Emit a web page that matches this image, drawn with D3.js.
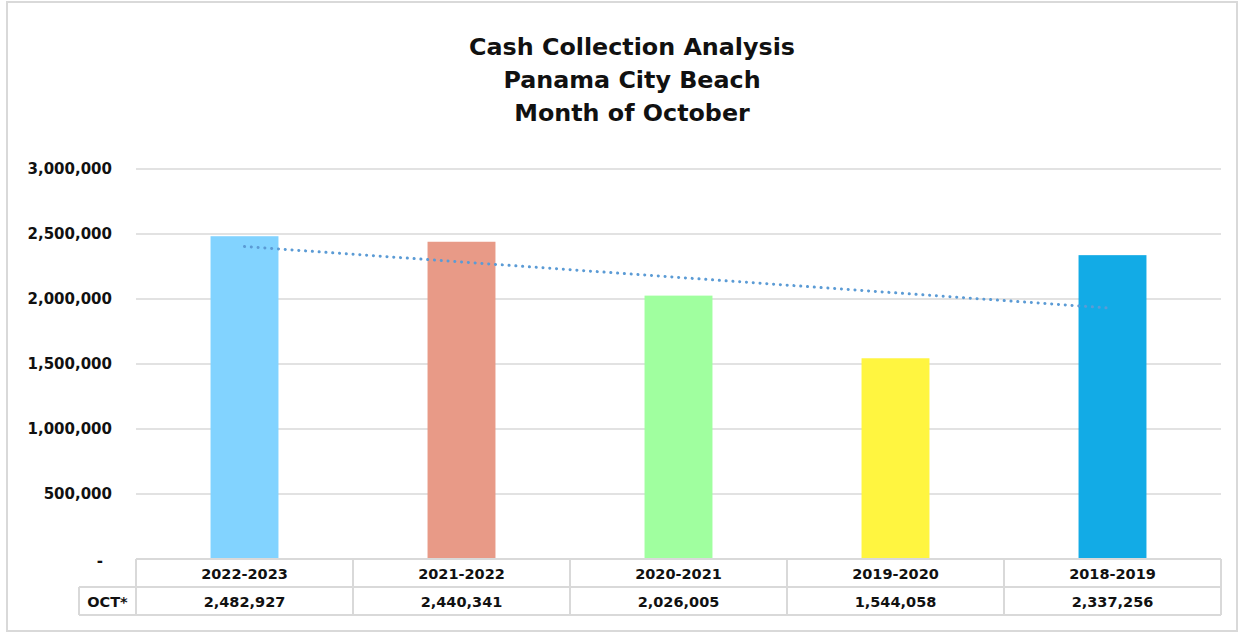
<!DOCTYPE html>
<html>
<head>
<meta charset="utf-8">
<script src="https://cdn.jsdelivr.net/npm/d3@7"></script>
<style>
  body { margin: 0; background: #fff; }
  svg text { font-family: "DejaVu Sans", Verdana, sans-serif; font-weight: bold; fill: #111; }
</style>
</head>
<body>
<div id="chart"></div>
<script>
// data
var seasons = ["2022-2023", "2021-2022", "2020-2021", "2019-2020", "2018-2019"];
var octValues = [2482927, 2440341, 2026005, 1544058, 2337256];
var barColors = ["#82D3FF", "#E89A87", "#A0FF9F", "#FFF540", "#12ABE6"];
var yTicks = [0, 500000, 1000000, 1500000, 2000000, 2500000, 3000000];
var titleLines = ["Cash Collection Analysis", "Panama City Beach", "Month of October"];
var rowLabel = "OCT*";

var W = 1241, H = 634;
var plot = {left: 136, right: 1221, top: 169, bottom: 559};
var rowH = 28;

var svg = d3.select("#chart").append("svg")
    .attr("width", W)
    .attr("height", H);

// outer frame
svg.append("rect")
    .attr("x", 7).attr("y", 2)
    .attr("width", 1230).attr("height", 629)
    .attr("fill", "#fff")
    .attr("stroke", "#D9D9D9")
    .attr("stroke-width", 2);

// title
svg.append("g").selectAll("text")
    .data(titleLines)
    .enter().append("text")
    .attr("x", 632)
    .attr("y", function (d, i) { return 55 + i * 33; })
    .attr("text-anchor", "middle")
    .attr("font-size", "23.8px")
    .text(function (d) { return d; });

var x = d3.scaleBand()
    .domain(seasons)
    .range([plot.left, plot.right]);

var y = d3.scaleLinear()
    .domain([0, 3000000])
    .range([plot.bottom, plot.top]);

// grid lines
svg.append("g").selectAll("line")
    .data(yTicks.filter(function (d) { return d > 0; }))
    .enter().append("line")
    .attr("x1", plot.left).attr("x2", plot.right)
    .attr("y1", function (d) { return y(d); })
    .attr("y2", function (d) { return y(d); })
    .attr("stroke", "#D9D9D9")
    .attr("stroke-width", 1.5);

// y axis labels
var fmt = d3.format(",");
svg.append("g").selectAll("text")
    .data(yTicks)
    .enter().append("text")
    .attr("x", function (d) { return d === 0 ? 103 : 112; })
    .attr("y", function (d) { return y(d) + (d === 0 ? 7 : 5); })
    .attr("text-anchor", "end")
    .attr("font-size", "15px")
    .text(function (d) { return d === 0 ? "-" : fmt(d); });

// bars
var barW = x.bandwidth() * 0.313;
svg.append("g").selectAll("rect")
    .data(octValues)
    .enter().append("rect")
    .attr("x", function (d, i) { return x(seasons[i]) + x.bandwidth() / 2 - barW / 2; })
    .attr("y", function (d) { return y(d); })
    .attr("width", barW)
    .attr("height", function (d) { return y(0) - y(d); })
    .attr("fill", function (d, i) { return barColors[i]; });

// linear trend line (least squares, like the Excel trendline)
var n = octValues.length;
var mx = (n + 1) / 2;
var my = d3.mean(octValues);
var sxy = 0, sxx = 0;
octValues.forEach(function (v, i) {
    sxy += (i + 1 - mx) * (v - my);
    sxx += (i + 1 - mx) * (i + 1 - mx);
});
var slope = sxy / sxx;
var trend = [1, n].map(function (k) { return {k: k, v: my + slope * (k - mx)}; });
svg.append("path")
    .datum(trend)
    .attr("d", d3.line()
        .x(function (d) { return x(seasons[d.k - 1]) + x.bandwidth() / 2; })
        .y(function (d) { return y(d.v); }))
    .attr("fill", "none")
    .attr("stroke", "#5B9BD5")
    .attr("stroke-width", 3)
    .attr("stroke-linecap", "round")
    .attr("stroke-dasharray", "0.1,6.7");

// data table under the plot
var table = svg.append("g");
var labelX = 79;
// horizontal lines
[plot.bottom, plot.bottom + rowH, plot.bottom + 2 * rowH].forEach(function (yy, i) {
    table.append("line")
        .attr("x1", i === 0 ? plot.left : labelX).attr("x2", plot.right)
        .attr("y1", yy).attr("y2", yy)
        .attr("stroke", "#D9D9D9").attr("stroke-width", 2);
});
// vertical lines
var vxs = seasons.map(function (s) { return x(s); }).concat([plot.right]);
vxs.forEach(function (xx) {
    table.append("line")
        .attr("x1", xx).attr("x2", xx)
        .attr("y1", plot.bottom).attr("y2", plot.bottom + 2 * rowH)
        .attr("stroke", "#D9D9D9").attr("stroke-width", 2);
});
table.append("line")
    .attr("x1", labelX).attr("x2", labelX)
    .attr("y1", plot.bottom + rowH).attr("y2", plot.bottom + 2 * rowH)
    .attr("stroke", "#D9D9D9").attr("stroke-width", 2);

table.selectAll("text.cat")
    .data(seasons)
    .enter().append("text")
    .attr("class", "cat")
    .attr("x", function (d) { return x(d) + x.bandwidth() / 2; })
    .attr("y", plot.bottom + 20)
    .attr("text-anchor", "middle")
    .attr("font-size", "14.5px")
    .text(function (d) { return d; });

table.selectAll("text.val")
    .data(octValues)
    .enter().append("text")
    .attr("class", "val")
    .attr("x", function (d, i) { return x(seasons[i]) + x.bandwidth() / 2; })
    .attr("y", plot.bottom + rowH + 20)
    .attr("text-anchor", "middle")
    .attr("font-size", "14.5px")
    .text(function (d) { return fmt(d); });

table.append("text")
    .attr("x", (labelX + plot.left) / 2)
    .attr("y", plot.bottom + rowH + 20)
    .attr("text-anchor", "middle")
    .attr("font-size", "14.5px")
    .text(rowLabel);
</script>
</body>
</html>
